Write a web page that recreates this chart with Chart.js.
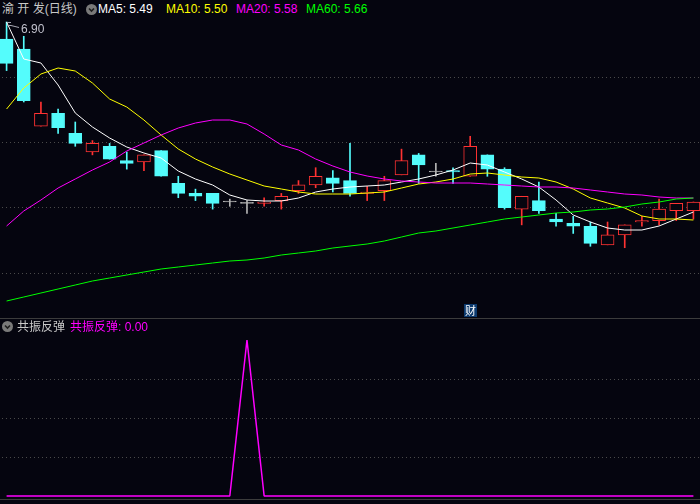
<!DOCTYPE html>
<html>
<head>
<meta charset="utf-8">
<script src="https://cdn.jsdelivr.net/npm/chart.js@4.4.0/dist/chart.umd.min.js"></script>
<style>
html, body { margin: 0; padding: 0; }
body {
  width: 700px; height: 504px; overflow: hidden; position: relative;
  background: #05050f;
  font-family: "Liberation Sans", Arial, "Noto Sans CJK SC", sans-serif;
  font-size: 12px;
}
.t { position: absolute; white-space: nowrap; line-height: 14px; }
.sep { position: absolute; left: 0; width: 700px; height: 1px; background: #3c3c3c; }
.ico { position: absolute; width: 11px; height: 11px; border-radius: 50%; background: #7a7a7a; }
.ico svg { position: absolute; left: 0; top: 0; }
#upper { position: absolute; left: -2px; top: 20px; }
#lower { position: absolute; left: -2px; top: 320px; }
</style>
</head>
<body>
<canvas id="upper" width="704" height="298"></canvas>
<canvas id="lower" width="704" height="178"></canvas>
<div class="sep" style="top:318px"></div>
<div class="sep" style="top:499px"></div>
<div id="head"></div>
<script>
// daily candles, oldest first
var opens  = [6.78, 6.71, 6.17, 6.26, 6.12, 5.99, 6.03, 5.93, 5.92, 6.00, 5.77, 5.70, 5.70, 5.64, 5.63, 5.63, 5.65, 5.72, 5.76, 5.81, 5.79,
              5.70, 5.72, 5.83, 5.97, 5.85, 5.86, 5.82, 5.97, 5.87, 5.59, 5.65, 5.52, 5.49, 5.47, 5.34, 5.41, 5.50, 5.51, 5.58, 5.58];
var highs  = [6.90, 6.80, 6.34, 6.29, 6.20, 6.07, 6.05, 5.99, 5.97, 6.00, 5.82, 5.73, 5.70, 5.66, 5.65, 5.67, 5.70, 5.79, 5.88, 5.86, 6.05,
              5.75, 5.82, 6.01, 5.98, 5.91, 5.88, 6.10, 5.97, 5.88, 5.68, 5.78, 5.56, 5.54, 5.50, 5.50, 5.48, 5.54, 5.66, 5.63, 5.64];
var lows   = [6.56, 6.34, 6.17, 6.12, 6.03, 5.97, 5.94, 5.87, 5.86, 5.82, 5.67, 5.65, 5.59, 5.61, 5.56, 5.61, 5.59, 5.70, 5.74, 5.71, 5.68,
              5.65, 5.65, 5.83, 5.77, 5.82, 5.77, 5.82, 5.82, 5.59, 5.48, 5.56, 5.47, 5.42, 5.33, 5.34, 5.32, 5.47, 5.48, 5.51, 5.52];
var closes = [6.61, 6.35, 6.26, 6.16, 6.05, 6.05, 5.94, 5.91, 5.97, 5.82, 5.70, 5.68, 5.63, 5.64, 5.63, 5.64, 5.68, 5.76, 5.82, 5.77, 5.70,
              5.71, 5.79, 5.93, 5.90, 5.85, 5.85, 6.03, 5.87, 5.60, 5.68, 5.58, 5.50, 5.47, 5.35, 5.41, 5.48, 5.51, 5.59, 5.63, 5.64];

var ma5  = [6.900, 6.641, 6.613, 6.459, 6.263, 6.165, 6.088, 6.025, 5.983, 5.948, 5.857, 5.801, 5.759, 5.689, 5.654, 5.647, 5.647, 5.668, 5.710, 5.731, 5.745,
            5.752, 5.759, 5.780, 5.801, 5.829, 5.864, 5.913, 5.899, 5.850, 5.801, 5.745, 5.654, 5.549, 5.500, 5.458, 5.444, 5.444, 5.472, 5.521, 5.570];
var ma10 = [6.291, 6.438, 6.536, 6.578, 6.557, 6.473, 6.361, 6.305, 6.214, 6.109, 6.011, 5.941, 5.885, 5.836, 5.794, 5.752, 5.731, 5.710, 5.696, 5.696, 5.696,
            5.703, 5.710, 5.738, 5.766, 5.780, 5.801, 5.836, 5.843, 5.829, 5.815, 5.808, 5.780, 5.731, 5.668, 5.633, 5.598, 5.542, 5.521, 5.521, 5.514];
var ma20 = [5.472, 5.577, 5.654, 5.738, 5.801, 5.864, 5.920, 5.997, 6.053, 6.109, 6.158, 6.193, 6.214, 6.214, 6.186, 6.116, 6.039, 6.004, 5.941, 5.892, 5.850,
            5.822, 5.801, 5.787, 5.780, 5.773, 5.773, 5.773, 5.766, 5.759, 5.752, 5.745, 5.745, 5.738, 5.724, 5.710, 5.696, 5.689, 5.675, 5.668, 5.668];
var ma60 = [4.947, 4.975, 5.003, 5.031, 5.059, 5.087, 5.108, 5.129, 5.150, 5.171, 5.185, 5.199, 5.213, 5.227, 5.234, 5.248, 5.269, 5.283, 5.297, 5.318, 5.332,
            5.346, 5.367, 5.395, 5.423, 5.437, 5.458, 5.479, 5.500, 5.521, 5.535, 5.549, 5.563, 5.570, 5.584, 5.591, 5.605, 5.626, 5.640, 5.661, 5.668];

// 共振反弹 indicator
var signal = [0, 0, 0, 0, 0, 0, 0, 0, 0, 0, 0, 0, 0, 0, 100, 0, 0, 0, 0, 0, 0,
              0, 0, 0, 0, 0, 0, 0, 0, 0, 0, 0, 0, 0, 0, 0, 0, 0, 0, 0, 0];

var labels = closes.map(function (c, i) { return String(i + 1); });
var reportDay = '28';   // 财 marker

var priceGrid = [5.143, 5.605, 6.06, 6.515];
var signalGrid = [25, 50, 75];

var maNames  = ['MA5', 'MA10', 'MA20', 'MA60'];
var maLatest = [5.49, 5.50, 5.58, 5.66];
var maColors = ['#ffffff', '#ffff00', '#ff00ff', '#00ff00'];
var maLeft   = [98, 166, 236, 306];

var BG = '#05050f', UP = '#ff3232', DOWN = '#54fcfc', FLAT = '#b4b4b4';

function candleColor(i) {
  if (closes[i] > opens[i]) return UP;
  if (closes[i] < opens[i]) return DOWN;
  return FLAT;
}

// header texts
var head = document.getElementById('head');
function addText(txt, left, top, color) {
  var s = document.createElement('span');
  s.className = 't';
  s.textContent = txt;
  s.style.left = left + 'px';
  s.style.top = top + 'px';
  s.style.color = color;
  head.appendChild(s);
}
function addIcon(left, top) {
  var d = document.createElement('div');
  d.className = 'ico';
  d.style.left = left + 'px';
  d.style.top = top + 'px';
  d.innerHTML = '<svg width="11" height="11"><polyline points="3,4.5 5.5,7 8,4.5" fill="none" stroke="#1e1e1e" stroke-width="1.6"/></svg>';
  head.appendChild(d);
}
addText('渝 开 发(日线)', 2, 2, '#c8c8c8');
addIcon(86, 4);
maNames.forEach(function (n, k) {
  addText(n + ': ' + maLatest[k].toFixed(2), maLeft[k], 2, maColors[k]);
});
addIcon(2, 321);
addText('共振反弹', 17, 320, '#c8c8c8');
addText('共振反弹: ' + signal[signal.length - 1].toFixed(2), 70, 320, '#ff00ff');

function dottedGrid(chart, values) {
  var ctx = chart.ctx, area = chart.chartArea, y = chart.scales.y;
  ctx.save();
  ctx.strokeStyle = '#4a4a4a';
  ctx.lineWidth = 1;
  ctx.setLineDash([1, 3]);
  values.forEach(function (v) {
    var py = Math.round(y.getPixelForValue(v)) + 0.5;
    ctx.beginPath();
    ctx.moveTo(area.left, py);
    ctx.lineTo(area.right, py);
    ctx.stroke();
  });
  ctx.restore();
}

var upperDecor = {
  id: 'upperDecor',
  beforeDatasetsDraw: function (chart) { dottedGrid(chart, priceGrid); },
  afterDatasetsDraw: function (chart) {
    var ctx = chart.ctx, xs = chart.scales.x, ys = chart.scales.y;
    // highest price label
    var hi = highs.indexOf(Math.max.apply(null, highs));
    var x = Math.round(xs.getPixelForValue(hi)), y = Math.round(ys.getPixelForValue(highs[hi]));
    ctx.save();
    ctx.strokeStyle = '#a8a8b4';
    ctx.lineWidth = 1;
    ctx.beginPath();
    ctx.moveTo(x, y + 0.5); ctx.lineTo(x + 4, y + 0.5);
    ctx.moveTo(x, y + 3.5); ctx.lineTo(x + 4, y + 3.5); ctx.lineTo(x + 12, y + 5.5);
    ctx.stroke();
    ctx.fillStyle = '#c0c0cc';
    ctx.font = '12px "Liberation Sans", Arial';
    ctx.fillText(highs[hi].toFixed(2), x + 14, y + 11);
    // 财 marker
    var mi = labels.indexOf(reportDay);
    var mx = Math.round(xs.getPixelForValue(mi));
    var top = chart.chartArea.bottom - 14;
    ctx.fillStyle = '#0c3a6e';
    ctx.fillRect(mx - 6, top, 13, 13);
    ctx.fillStyle = '#ffffff';
    ctx.font = '11px "Noto Sans CJK SC"';
    ctx.textAlign = 'center';
    ctx.textBaseline = 'middle';
    ctx.fillText('财', mx + 0.5, top + 7);
    ctx.restore();
  }
};

function maLine(data, color) {
  return { type: 'line', data: data, borderColor: color, borderWidth: 1, pointRadius: 0, tension: 0, order: 1 };
}

new Chart(document.getElementById('upper'), {
  type: 'bar',
  data: {
    labels: labels,
    datasets: [
      {
        data: lows.map(function (l, i) { return [l, highs[i]]; }),
        backgroundColor: function (c) { return candleColor(c.dataIndex); },
        borderWidth: 0,
        barThickness: 1,
        grouped: false,
        order: 3
      },
      {
        data: opens.map(function (o, i) { return [o, closes[i]]; }),
        backgroundColor: function (c) {
          var i = c.dataIndex;
          return closes[i] > opens[i] ? BG : candleColor(i);
        },
        borderColor: function (c) { return candleColor(c.dataIndex); },
        borderWidth: 1,
        borderSkipped: false,
        barThickness: 13,
        minBarLength: 1,
        grouped: false,
        order: 2
      },
      maLine(ma60, maColors[3]),
      maLine(ma20, maColors[2]),
      maLine(ma10, maColors[1]),
      maLine(ma5, maColors[0])
    ]
  },
  options: {
    responsive: false,
    animation: false,
    events: [],
    layout: { padding: 0 },
    plugins: { legend: { display: false }, tooltip: { enabled: false } },
    scales: {
      x: { display: false, offset: true },
      y: { display: false, min: 4.828, max: 6.914 }
    }
  },
  plugins: [upperDecor]
});

new Chart(document.getElementById('lower'), {
  type: 'line',
  data: {
    labels: labels,
    datasets: [{
      data: signal,
      borderColor: '#ff00ff',
      borderWidth: 1.5,
      borderJoinStyle: 'bevel',
      pointRadius: 0,
      tension: 0
    }]
  },
  options: {
    responsive: false,
    animation: false,
    events: [],
    layout: { padding: 0 },
    plugins: { legend: { display: false }, tooltip: { enabled: false } },
    scales: {
      x: { display: false, offset: true },
      y: { display: false, min: -1.282, max: 112.82 }
    }
  },
  plugins: [{
    id: 'lowerGrid',
    beforeDatasetsDraw: function (chart) { dottedGrid(chart, signalGrid); }
  }]
});
</script>
</body>
</html>
